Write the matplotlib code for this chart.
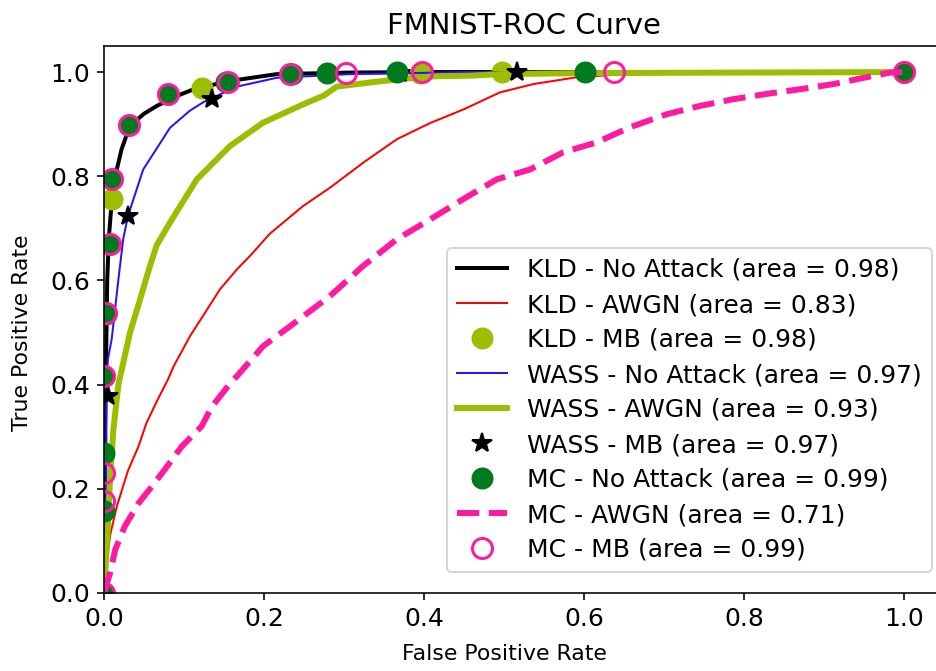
import numpy as np
import matplotlib
matplotlib.use("Agg")
import matplotlib.pyplot as plt

# ROC points (fpr, tpr)
kld_clean_fpr = [0, 0.0, 0.002, 0.004, 0.006, 0.008, 0.010, 0.014, 0.022, 0.0325, 0.05, 0.066, 0.091, 0.112, 0.1575, 0.216, 0.3075, 0.4, 0.5, 1.0]
kld_clean_tpr = [0, 0.2, 0.38, 0.60, 0.68, 0.72, 0.756, 0.80, 0.852, 0.897, 0.92, 0.935, 0.954, 0.967, 0.983, 0.996, 0.999, 1.0, 1.0, 1.0]

kld_awgn_fpr = [0, 0.001, 0.003, 0.0075, 0.016, 0.030, 0.043, 0.053, 0.066, 0.080, 0.087, 0.1075, 0.145, 0.166, 0.1825, 0.2075,
                0.249, 0.2825, 0.324, 0.366, 0.4075, 0.449, 0.495, 0.537, 0.591, 0.641, 0.70, 0.85, 1.0]
kld_awgn_tpr = [0, 0.038, 0.05, 0.11, 0.166, 0.235, 0.281, 0.326, 0.368, 0.41, 0.435, 0.493, 0.583, 0.621, 0.647, 0.69,
                0.743, 0.778, 0.826, 0.871, 0.902, 0.928, 0.961, 0.977, 0.990, 0.995, 0.997, 0.999, 1.0]

kld_mb_fpr = [0.0, 0.0096, 0.122, 0.395, 0.497, 1.0]
kld_mb_tpr = [0.0, 0.756, 0.970, 0.998, 1.0, 1.0]

wass_clean_fpr = [0, 0.001, 0.003, 0.003, 0.005, 0.0096, 0.018, 0.024, 0.030, 0.049, 0.0825, 0.1075, 0.124, 0.135, 0.166, 0.216, 0.3075, 0.4575, 1.0]
wass_clean_tpr = [0, 0.12, 0.22, 0.41, 0.45, 0.487, 0.602, 0.679, 0.724, 0.813, 0.893, 0.926, 0.942, 0.950, 0.972, 0.989, 0.996, 1.0, 1.0]

wass_awgn_fpr = [0, 0.0046, 0.0075, 0.0117, 0.018, 0.0325, 0.045, 0.0575, 0.066, 0.0825, 0.116, 0.1575,
                 0.199, 0.249, 0.275, 0.291, 0.3325, 0.374, 0.416, 0.4575, 0.495, 0.6, 1.0]
wass_awgn_tpr = [0, 0.121, 0.217, 0.313, 0.40, 0.5, 0.563, 0.628, 0.668, 0.711, 0.794, 0.858,
                 0.903, 0.938, 0.955, 0.972, 0.98, 0.987, 0.992, 0.993, 0.996, 0.998, 1.0]

wass_mb_fpr = [0.0, 0.005, 0.030, 0.1346, 0.37, 0.516, 1.0]
wass_mb_tpr = [0.0, 0.379, 0.724, 0.948, 0.998, 1.0, 1.0]

mc_clean_fpr = [0, 0, 0, 0, 0.003, 0.0075, 0.0096, 0.031, 0.080, 0.153, 0.235, 0.279, 0.366, 0.601, 1.0]
mc_clean_tpr = [0, 0.158, 0.269, 0.416, 0.535, 0.669, 0.794, 0.898, 0.958, 0.981, 0.997, 0.999, 1.0, 1.0, 1.0]

mc_awgn_fpr = [0, 0.0075, 0.014, 0.026, 0.043, 0.0596, 0.076, 0.097, 0.122, 0.135, 0.155, 0.17, 0.199, 0.2325, 0.2825,
               0.324, 0.366, 0.4075, 0.449, 0.491, 0.5325, 0.574, 0.616, 0.6575, 0.7033, 0.745, 0.787, 0.828, 0.87,
               0.912, 0.953, 0.9825, 1.0]
mc_awgn_tpr = [0, 0.038, 0.083, 0.128, 0.172, 0.204, 0.237, 0.281, 0.32, 0.358, 0.397, 0.423, 0.474, 0.512, 0.57,
               0.628, 0.679, 0.717, 0.756, 0.794, 0.813, 0.846, 0.865, 0.894, 0.919, 0.935, 0.948, 0.958, 0.967,
               0.977, 0.99, 0.999, 1.0]

mc_mb_fpr = [0, 0, 0, 0, 0.003, 0.0075, 0.0096, 0.031, 0.080, 0.155, 0.2325, 0.303, 0.397, 0.637, 1.0]
mc_mb_tpr = [0, 0.176, 0.230, 0.416, 0.537, 0.669, 0.794, 0.898, 0.958, 0.981, 0.997, 0.999, 1.0, 1.0, 1.0]

labels = ["KLD - No Attack (area = 0.98)", "KLD - AWGN (area = 0.83)", "KLD - MB (area = 0.98)",
          "WASS - No Attack (area = 0.97)", "WASS - AWGN (area = 0.93)", "WASS - MB (area = 0.97)",
          "MC - No Attack (area = 0.99)", "MC - AWGN (area = 0.71)", "MC - MB (area = 0.99)"]

lime = "#9bbf00"
pink = "#ff1aa0"

fig = plt.figure(figsize=(936 / 144, 671 / 144), dpi=144)
ax = fig.add_axes([104 / 936, 78 / 671, 840 / 936, 547 / 671])

ax.plot(kld_clean_fpr, kld_clean_tpr, color="black", lw=2, label=labels[0])
ax.plot(kld_awgn_fpr, kld_awgn_tpr, color="red", lw=1, label=labels[1])
ax.plot(kld_mb_fpr, kld_mb_tpr, "o", color=lime, ms=10, label=labels[2])
ax.plot(wass_clean_fpr, wass_clean_tpr, color="#2a10ff", lw=1, label=labels[3])
ax.plot(wass_awgn_fpr, wass_awgn_tpr, color=lime, lw=3, label=labels[4])
ax.plot(wass_mb_fpr, wass_mb_tpr, "*", color="black", ms=10, label=labels[5])
ax.plot(mc_clean_fpr, mc_clean_tpr, "o", color="#007a1e", ms=10, label=labels[6])
ax.plot(mc_awgn_fpr, mc_awgn_tpr, "--", color=pink, lw=3, label=labels[7])
ax.plot(mc_mb_fpr, mc_mb_tpr, "o", mfc="none", mec=pink, mew=1.5, ms=10, label=labels[8])

ax.set_xlim([0.0, 1.05])
ax.set_ylim([0.0, 1.05])
ax.set_xticks(np.arange(0, 1.01, 0.2))
ax.set_yticks(np.arange(0, 1.01, 0.2))
ax.tick_params(labelsize=12.5)
ax.set_xlabel("False Positive Rate", fontsize=11)
ax.set_ylabel("True Positive Rate", fontsize=11)
# labels sit under the 0.5 mark, not the axes centre
ax.xaxis.set_label_coords(0.5 / 1.05, -0.093)
ax.yaxis.set_label_coords(-0.086, 0.5 / 1.05)
ax.set_title("FMNIST-ROC Curve", fontsize=14.5)

ax.legend(loc="lower right", bbox_to_anchor=(932 / 936, (671 - 572) / 671), bbox_transform=fig.transFigure,
          borderaxespad=0, fontsize=12.5, labelspacing=0.44, numpoints=1)

fig.savefig("out.png", dpi=144)
